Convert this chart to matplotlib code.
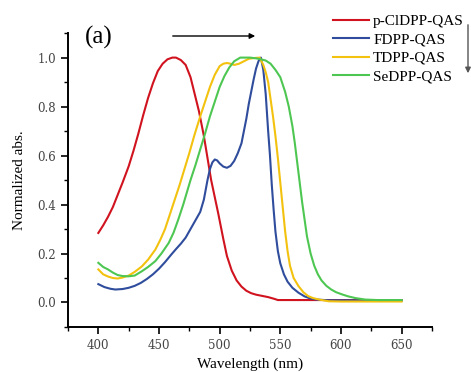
import matplotlib
matplotlib.use("Agg")
import matplotlib.pyplot as plt
from matplotlib.ticker import MultipleLocator, FormatStrFormatter

# wavelength (nm) and normalized absorbance
wl_red = [400, 404, 408, 412, 416, 420, 425, 429, 433, 437, 441, 445, 449, 453, 457, 461,
          464, 468, 472, 476, 479, 483, 487, 490, 493, 496, 499, 503, 506, 510, 514, 518,
          522, 526, 530, 535, 540, 545, 548, 600, 650]
ab_red = [0.284, 0.315, 0.35, 0.39, 0.44, 0.49, 0.556, 0.62, 0.69, 0.765, 0.835, 0.895,
          0.945, 0.975, 0.993, 1.0, 1.0, 0.99, 0.97, 0.92, 0.86, 0.78, 0.68, 0.59, 0.50,
          0.43, 0.36, 0.26, 0.19, 0.13, 0.09, 0.065, 0.048, 0.038, 0.032, 0.027, 0.022,
          0.015, 0.01, 0.01, 0.01]

wl_blue = [400, 405, 410, 414, 420, 425, 430, 435, 440, 445, 450, 455, 460, 464, 468, 472,
           476, 480, 484, 487, 490, 492, 494, 496, 498, 500, 503, 506, 509, 512, 515, 518,
           520, 522, 524, 526, 528, 530, 532, 534, 536, 538, 540, 541.5, 543, 544.5, 546,
           548, 550, 553, 556, 560, 565, 570, 575, 580, 590, 650]
ab_blue = [0.075, 0.063, 0.056, 0.053, 0.055, 0.06, 0.068, 0.08, 0.096, 0.115, 0.138,
           0.165, 0.195, 0.218, 0.24, 0.265, 0.30, 0.335, 0.37, 0.42, 0.50, 0.545, 0.572,
           0.584, 0.58, 0.568, 0.555, 0.55, 0.558, 0.578, 0.61, 0.65, 0.70, 0.75, 0.81,
           0.86, 0.91, 0.955, 0.985, 1.0, 0.95, 0.85, 0.70, 0.60, 0.48, 0.38, 0.29, 0.21,
           0.16, 0.115, 0.085, 0.06, 0.04, 0.025, 0.016, 0.012, 0.009, 0.008]

wl_yel = [400, 404, 408, 412, 416, 420, 425, 430, 436, 441, 447, 451, 455, 459, 463, 467,
          471, 475, 479, 484, 488, 492, 496, 500, 503, 506, 509, 512, 516, 520, 524, 528,
          533, 536, 538, 540, 542, 544, 546, 548, 550, 552, 554, 556, 558, 561, 565, 569,
          573, 577, 582, 590, 600, 650]
ab_yel = [0.135, 0.115, 0.106, 0.10, 0.098, 0.102, 0.11, 0.125, 0.148, 0.175, 0.216, 0.255,
          0.30, 0.36, 0.42, 0.48, 0.545, 0.61, 0.68, 0.76, 0.82, 0.88, 0.93, 0.965, 0.975,
          0.978, 0.975, 0.97, 0.975, 0.985, 0.995, 0.998, 1.0, 0.97, 0.94, 0.90, 0.83,
          0.76, 0.68, 0.59, 0.49, 0.39, 0.29, 0.21, 0.15, 0.10, 0.067, 0.042, 0.026, 0.018,
          0.012, 0.005, 0.004, 0.004]

wl_grn = [400, 404, 408, 412, 416, 420, 425, 430, 436, 441, 447, 452, 458, 462, 466, 470,
          473, 476, 480, 484, 488, 492, 496, 500, 504, 508, 512, 517, 521, 525, 530, 534,
          538, 542, 546, 550, 554, 557, 560, 562, 564, 566, 568, 570, 572, 575, 578, 581,
          584, 588, 592, 596, 601, 606, 612, 620, 630, 650]
ab_grn = [0.162, 0.145, 0.135, 0.122, 0.112, 0.108, 0.107, 0.11, 0.128, 0.145, 0.169, 0.20,
          0.243, 0.285, 0.34, 0.40, 0.45, 0.50, 0.56, 0.625, 0.69, 0.76, 0.82, 0.88, 0.925,
          0.96, 0.985, 1.0, 1.0, 1.0, 0.997, 0.993, 0.988, 0.975, 0.95, 0.92, 0.86, 0.80,
          0.72, 0.65, 0.57, 0.49, 0.41, 0.34, 0.27, 0.20, 0.15, 0.115, 0.09, 0.068, 0.053,
          0.042, 0.033, 0.025, 0.018, 0.012, 0.01, 0.01]

labels = ["p-ClDPP-QAS", "FDPP-QAS", "TDPP-QAS", "SeDPP-QAS"]
colors = ["#d0131e", "#2f4d9c", "#f3c20f", "#4ec752"]

serif = ["Liberation Serif", "DejaVu Serif"]

fig = plt.figure(figsize=(4.71, 3.72), dpi=100)
ax = fig.add_axes([0.1444, 0.121, 0.7726, 0.790])

series = [(wl_red, ab_red), (wl_blue, ab_blue), (wl_yel, ab_yel), (wl_grn, ab_grn)]
for (x, y), lab, c in zip(series, labels, colors):
    ax.plot(x, y, color=c, lw=1.5, label=lab)

ax.set_xlim(375, 675)
ax.set_ylim(-0.1, 1.1)
ax.xaxis.set_minor_locator(MultipleLocator(25))
ax.yaxis.set_minor_locator(MultipleLocator(0.1))
ax.yaxis.set_major_formatter(FormatStrFormatter("%.1f"))
ax.set_xticks([400, 450, 500, 550, 600, 650])
ax.set_yticks([0.0, 0.2, 0.4, 0.6, 0.8, 1.0])

for s in ["top", "right"]:
    ax.spines[s].set_visible(False)
for s in ["left", "bottom"]:
    ax.spines[s].set_linewidth(1.4)
ax.tick_params(which="major", direction="out", length=5, width=1.2, labelsize=8.5)
ax.tick_params(which="minor", direction="out", length=3, width=1.0)
for t in ax.get_xticklabels() + ax.get_yticklabels():
    t.set_family(["DejaVu Serif"])
    t.set_color("#444444")

ax.set_xlabel("Wavelength (nm)", family=serif, fontsize=11, labelpad=4)
ax.set_ylabel("Normalized abs.", family=serif, fontsize=11, labelpad=8)

ax.legend(loc="upper left", bbox_to_anchor=(0.695, 0.978), bbox_transform=fig.transFigure,
          frameon=False, prop={"family": serif, "size": 11}, handlelength=2.3,
          handletextpad=0.3, labelspacing=0.31, borderaxespad=0)

fig.text(0.18, 0.90, "(a)", family=serif, fontsize=18, va="center")
ax.annotate("", xy=(258 / 471, 1 - 36 / 372), xytext=(170 / 471, 1 - 36 / 372),
            xycoords="figure fraction", textcoords="figure fraction",
            arrowprops=dict(arrowstyle="-|>", color="black", lw=1.0, mutation_scale=8))
ax.annotate("", xy=(468 / 471, 1 - 76 / 372), xytext=(468 / 471, 1 - 22 / 372),
            xycoords="figure fraction", textcoords="figure fraction",
            arrowprops=dict(arrowstyle="-|>", color="#555555", lw=1.0, mutation_scale=8))

fig.savefig("out.png", dpi=100)
